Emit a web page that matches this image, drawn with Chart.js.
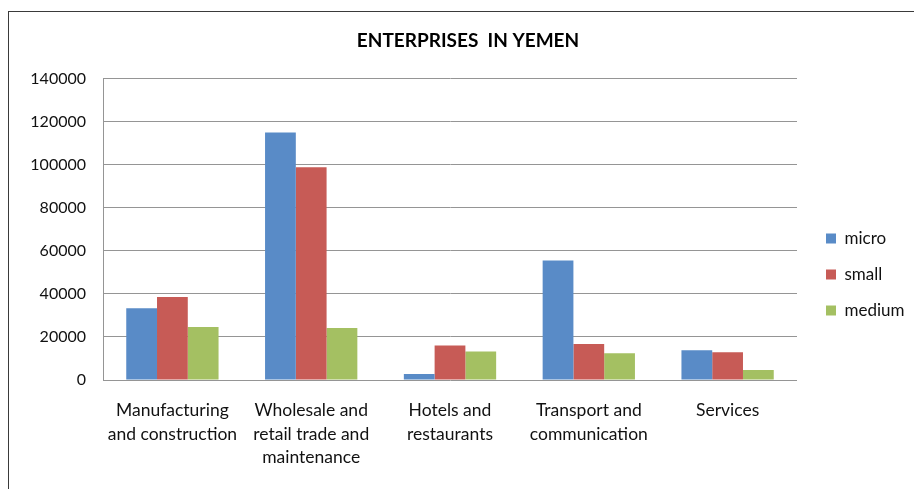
<!DOCTYPE html>
<html><head><meta charset="utf-8">
<script src="https://cdn.jsdelivr.net/npm/chart.js@4.4.0/dist/chart.umd.min.js"></script>
<style>
html,body{margin:0;padding:0;background:#fff;}
#wrap{position:relative;width:914px;height:489px;overflow:hidden;background:#fff;}
#frame{position:absolute;left:8px;top:11px;right:-5px;bottom:-5px;border-top:1px solid #3a3a3a;border-left:1px solid #3a3a3a;pointer-events:none;}
canvas{position:absolute;left:0;top:0;}
</style></head><body>
<div id="wrap"><canvas id="c" width="914" height="489"></canvas><div id="frame"></div></div>
<script>
const categories = [
  ["Manufacturing", "and construction"],
  ["Wholesale and", "retail trade and", "maintenance"],
  ["Hotels and", "restaurants"],
  ["Transport and", "communication"],
  ["Services"]
];
const seriesNames = ["micro", "small", "medium"];
const microValues  = [33300, 115000, 2800, 55600, 13800];
const smallValues  = [38600, 98900, 16000, 16700, 12900];
const mediumValues = [24600, 24200, 13300, 12400, 4600];
const yTicks = [0, 20000, 40000, 60000, 80000, 100000, 120000, 140000];
const chartTitle = "ENTERPRISES  IN YEMEN";

const FONT = "Lato, 'Liberation Sans', sans-serif";
const LEGEND_WIDTH = 117, LEGEND_DX = 10, LEGEND_DY = 30;

const legendShift = {
  id: 'legendShift',
  afterInit(chart) {
    const lg = chart.legend;
    const origFit = lg.fit;
    lg.fit = function () { origFit.call(this); this.width = LEGEND_WIDTH; };
    const origDraw = lg.draw;
    lg.draw = function (a) {
      this.left += LEGEND_DX; this.right += LEGEND_DX; this.top += LEGEND_DY; this.bottom += LEGEND_DY;
      origDraw.call(this, a);
      this.left -= LEGEND_DX; this.right -= LEGEND_DX; this.top -= LEGEND_DY; this.bottom -= LEGEND_DY;
    };
  }
};

new Chart(document.getElementById('c'), {
  type: 'bar',
  data: {
    labels: categories,
    datasets: [
      { label: seriesNames[0], data: microValues, backgroundColor: '#598BC7', borderWidth: 0 },
      { label: seriesNames[1], data: smallValues, backgroundColor: '#C75B56', borderWidth: 0 },
      { label: seriesNames[2], data: mediumValues, backgroundColor: '#A4C062', borderWidth: 0 }
    ]
  },
  options: {
    responsive: false,
    devicePixelRatio: 1,
    animation: false,
    datasets: { bar: { categoryPercentage: 0.665, barPercentage: 1.0 } },
    layout: { padding: { left: 22, right: 0, top: 0, bottom: 0 } },
    plugins: {
      title: {
        display: true, text: chartTitle, color: '#000',
        font: { family: FONT, size: 19, weight: 'bold' },
        padding: { top: 29, bottom: 27 }
      },
      legend: {
        position: 'right',
        labels: {
          color: '#111', boxWidth: 10, boxHeight: 10, padding: 19,
          font: { family: FONT, size: 17 }
        }
      },
      tooltip: { enabled: false }
    },
    scales: {
      x: {
        grid: { display: false, drawTicks: false },
        border: { display: false },
        ticks: { color: '#111', padding: 19, font: { family: FONT, size: 17.5, lineHeight: 1.34 }, maxRotation: 0, autoSkip: false },
        afterFit(s) { s.height = 109; }
      },
      y: {
        min: 0, max: 140000,
        afterBuildTicks(s) { s.ticks = yTicks.map(v => ({ value: v })); },
        grid: { color: '#959595', lineWidth: 1, drawTicks: false },
        border: { display: true, color: '#959595', width: 1 },
        ticks: { color: '#111', padding: 17, font: { family: FONT, size: 16 }, callback: v => String(v) },
        afterFit(s) { s.width = 81; }
      }
    }
  },
  plugins: [legendShift]
});
</script>
</body></html>
